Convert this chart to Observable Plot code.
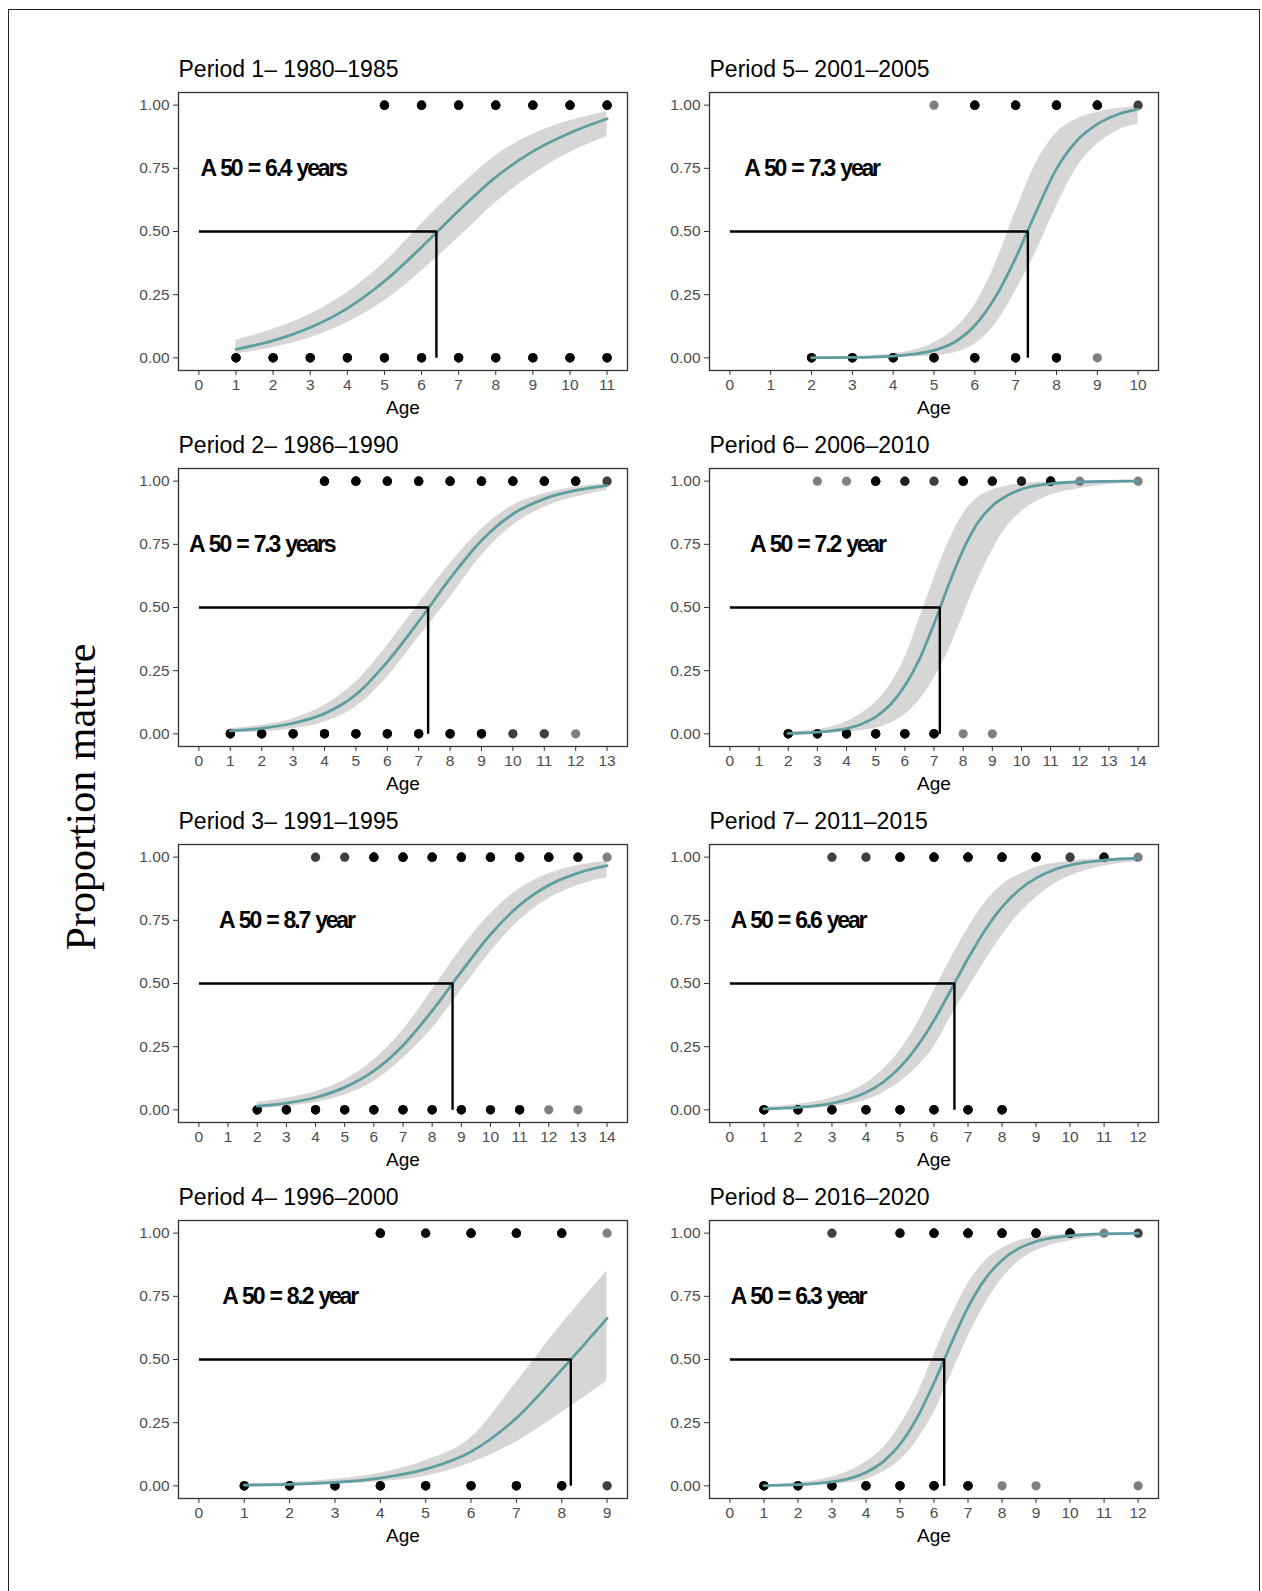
<!DOCTYPE html>
<html><head><meta charset="utf-8">
<script src="https://cdn.jsdelivr.net/npm/d3@7"></script>
<script src="https://cdn.jsdelivr.net/npm/@observablehq/plot@0.6"></script>
<style>
html,body{margin:0;padding:0;background:#fff;overflow:hidden;}
#page{position:relative;width:1262px;height:1591px;overflow:hidden;}
#border{position:absolute;left:8px;top:9px;width:1252px;height:1700px;border:1px solid #222;box-sizing:border-box;}
.panel{position:absolute;}
#ylab{position:absolute;left:81px;top:797px;transform:translate(-50%,-50%) rotate(-90deg);font-family:"Liberation Serif","Times New Roman",serif;font-size:42px;white-space:nowrap;color:#000;line-height:1;}
</style></head><body><div id="page"><div id="border"></div><div id="ylab">Proportion mature</div></div>
<script>
// ---- Panel metadata ----
const titles = ["Period 1\u2013 1980\u20131985","Period 2\u2013 1986\u20131990","Period 3\u2013 1991\u20131995","Period 4\u2013 1996\u20132000",
                "Period 5\u2013 2001\u20132005","Period 6\u2013 2006\u20132010","Period 7\u2013 2011\u20132015","Period 8\u2013 2016\u20132020"];
const xMax = [11, 13, 14, 9, 10, 14, 12, 12];
const a50 = [6.4, 7.3, 8.7, 8.2, 7.3, 7.2, 6.6, 6.3];
const a50Labels = ["A 50 = 6.4 years","A 50 = 7.3 years","A 50 = 8.7 year","A 50 = 8.2 year",
                   "A 50 = 7.3 year","A 50 = 7.2 year","A 50 = 6.6 year","A 50 = 6.3 year"];
const labelAge = [2, 2, 3, 2, 2, 3, 2, 2];
const yTicks = [0, 0.25, 0.5, 0.75, 1];

// ---- Period 1 ----
const ages1 = [1,2,3,4,5,6,7,8,9,10,11];
const fit1 = [0.034,0.068,0.12,0.196,0.303,0.438,0.582,0.715,0.817,0.89,0.946];
const lo1  = [0.015,0.041,0.08,0.14,0.226,0.344,0.476,0.615,0.727,0.813,0.875];
const hi1  = [0.07,0.113,0.173,0.259,0.377,0.53,0.674,0.80,0.885,0.938,0.974];
const mat1 = [5,6,7,8,9,10,11];            const matN1 = [6,6,6,6,6,6,6];
const imm1 = [1,2,3,4,5,6,7,8,9,10,11];    const immN1 = [6,6,6,6,6,6,6,6,6,6,6];

// ---- Period 2 ----
const ages2 = [1,2,3,4,5,6,7,8,9,10,11,12,13];
const fit2 = [0.012,0.022,0.042,0.08,0.155,0.285,0.445,0.615,0.765,0.87,0.93,0.963,0.982];
const lo2  = [0.004,0.008,0.02,0.047,0.107,0.225,0.383,0.54,0.706,0.825,0.897,0.937,0.963];
const hi2  = [0.021,0.034,0.06,0.113,0.205,0.35,0.515,0.673,0.81,0.904,0.95,0.976,0.99];
const mat2 = [4,5,6,7,8,9,10,11,12,13];     const matN2 = [6,6,6,6,6,6,6,6,6,2];
const imm2 = [1,2,3,4,5,6,7,8,9,10,11,12];  const immN2 = [6,6,6,6,6,6,6,6,6,2,2,1];

// ---- Period 3 ----
const ages3 = [2,3,4,5,6,7,8,9,10,11,12,13,14];
const fit3 = [0.015,0.027,0.049,0.089,0.154,0.255,0.392,0.547,0.694,0.81,0.889,0.937,0.966];
const lo3  = [0.005,0.013,0.029,0.059,0.112,0.204,0.322,0.474,0.625,0.75,0.836,0.888,0.918];
const hi3  = [0.029,0.046,0.072,0.118,0.197,0.316,0.474,0.638,0.776,0.875,0.934,0.967,0.984];
const mat3 = [4,5,6,7,8,9,10,11,12,13,14];  const matN3 = [2,2,6,6,6,6,6,6,6,4,1];
const imm3 = [2,3,4,5,6,7,8,9,10,11,12,13]; const immN3 = [6,6,6,6,6,6,6,6,4,6,1,1];

// ---- Period 4 ----
const ages4 = [1,2,3,4,5,6,7,8,9];
const fit4 = [0.003,0.006,0.014,0.031,0.066,0.135,0.268,0.46,0.663];
const lo4  = [0.0005,0.002,0.006,0.016,0.038,0.09,0.174,0.29,0.415];
const hi4  = [0.007,0.013,0.026,0.05,0.1,0.19,0.41,0.64,0.85];
const mat4 = [4,5,6,7,8,9];                 const matN4 = [6,4,6,6,6,1];
const imm4 = [1,2,3,4,5,6,7,8,9];           const immN4 = [6,6,6,6,6,6,6,6,2];

// ---- Period 5 ----
const ages5 = [2,2.5,3,3.5,4,4.5,5,5.5,6,6.5,7,7.5,8,8.5,9,9.5,10];
const fit5 = [0.0004,0.0008,0.0016,0.0033,0.007,0.015,0.03,0.062,0.128,0.24,0.395,0.578,0.748,0.859,0.925,0.963,0.984];
const lo5  = [0.0,0.0001,0.0003,0.0007,0.0015,0.004,0.008,0.02,0.054,0.133,0.265,0.42,0.60,0.753,0.845,0.90,0.925];
const hi5  = [0.002,0.003,0.005,0.009,0.016,0.03,0.06,0.113,0.21,0.37,0.58,0.77,0.89,0.945,0.972,0.987,0.995];
const mat5 = [5,6,7,8,9,10];                const matN5 = [1,6,6,6,6,2];
const imm5 = [2,3,4,5,6,7,8,9];             const immN5 = [6,6,6,6,6,6,6,1];

// ---- Period 6 ----
const ages6 = [2,2.5,3,3.5,4,4.5,5,5.5,6,6.5,7,7.5,8,8.5,9,9.5,10,11,12,13,14];
const fit6 = [0.002,0.0035,0.0065,0.012,0.021,0.038,0.067,0.115,0.19,0.296,0.435,0.589,0.728,0.835,0.902,0.942,0.968,0.99,0.997,0.999,1.0];
const lo6  = [0.0005,0.0008,0.0015,0.0035,0.007,0.013,0.022,0.042,0.075,0.134,0.22,0.33,0.47,0.608,0.727,0.82,0.879,0.945,0.971,0.987,0.995];
const hi6  = [0.005,0.009,0.016,0.028,0.049,0.08,0.125,0.195,0.30,0.455,0.615,0.76,0.87,0.935,0.965,0.98,0.99,0.997,0.999,1.0,1.0];
const mat6 = [3,4,5,6,7,8,9,10,11,12,14];   const matN6 = [1,1,6,3,2,6,4,3,6,1,1];
const imm6 = [2,3,4,5,6,7,8,9];             const immN6 = [6,6,6,6,6,6,1,1];

// ---- Period 7 ----
const ages7 = [1,2,3,3.5,4,4.5,5,5.5,6,6.5,7,7.5,8,8.5,9,9.5,10,11,12];
const fit7 = [0.004,0.01,0.026,0.043,0.069,0.109,0.168,0.25,0.354,0.475,0.599,0.711,0.802,0.87,0.917,0.948,0.968,0.988,0.996];
const lo7  = [0.001,0.004,0.012,0.022,0.038,0.068,0.11,0.17,0.25,0.37,0.48,0.59,0.69,0.775,0.84,0.89,0.925,0.965,0.982];
const hi7  = [0.01,0.022,0.048,0.07,0.105,0.16,0.235,0.34,0.47,0.60,0.72,0.82,0.89,0.93,0.96,0.975,0.985,0.995,0.998];
const mat7 = [3,4,5,6,7,8,9,10,11,12];      const matN7 = [2,2,6,6,6,6,6,2,4,1];
const imm7 = [1,2,3,4,5,6,7,8];             const immN7 = [6,6,6,6,6,6,6,6];

// ---- Period 8 ----
const ages8 = [1,2,3,3.5,4,4.5,5,5.5,6,6.5,7,7.5,8,8.5,9,9.5,10,11,12];
const fit8 = [0.0013,0.0046,0.016,0.029,0.053,0.095,0.164,0.269,0.407,0.562,0.706,0.818,0.893,0.94,0.967,0.982,0.99,0.997,0.999];
const lo8  = [0.0003,0.0015,0.006,0.012,0.025,0.055,0.10,0.18,0.29,0.44,0.59,0.72,0.82,0.89,0.93,0.955,0.97,0.99,0.996];
const hi8  = [0.004,0.012,0.035,0.058,0.095,0.15,0.24,0.36,0.52,0.67,0.80,0.89,0.94,0.97,0.985,0.992,0.997,0.999,1.0];
const mat8 = [3,5,6,7,8,9,10,11,12];        const matN8 = [2,4,6,6,6,6,6,1,2];
const imm8 = [1,2,3,4,5,6,7,8,9,12];        const immN8 = [6,6,6,6,6,6,6,1,1,1];

const series = [
  [ages1,fit1,lo1,hi1,mat1,matN1,imm1,immN1],
  [ages2,fit2,lo2,hi2,mat2,matN2,imm2,immN2],
  [ages3,fit3,lo3,hi3,mat3,matN3,imm3,immN3],
  [ages4,fit4,lo4,hi4,mat4,matN4,imm4,immN4],
  [ages5,fit5,lo5,hi5,mat5,matN5,imm5,immN5],
  [ages6,fit6,lo6,hi6,mat6,matN6,imm6,immN6],
  [ages7,fit7,lo7,hi7,mat7,matN7,imm7,immN7],
  [ages8,fit8,lo8,hi8,mat8,matN8,imm8,immN8]
];

const page = document.getElementById("page");
const boxW = 449, boxH = 278;
const mL = 60, mR = 12, mT = 40, mB = 55;
const colLeft = [177.5, 709];
const rowTop = [91.7, 467.8, 844.0, 1220.3];
const font = "'Liberation Sans', Arial, Helvetica, sans-serif";

series.forEach((s, i) => {
  const [ages, fit, lo, hi, mat, matN, imm, immN] = s;
  const xm = xMax[i];
  const fitData = ages.map((a, k) => ({age: a, fit: fit[k], lo: lo[k], hi: hi[k]}));
  const pts = [];
  mat.forEach((a, k) => { for (let j = 0; j < matN[k]; j++) pts.push({age: a, y: 1}); });
  imm.forEach((a, k) => { for (let j = 0; j < immN[k]; j++) pts.push({age: a, y: 0}); });
  const elbow = [{x: 0, y: 0.5}, {x: a50[i], y: 0.5}, {x: a50[i], y: 0}];

  const chart = Plot.plot({
    width: mL + boxW + mR, height: mT + boxH + mB,
    marginLeft: mL, marginRight: mR, marginTop: mT, marginBottom: mB,
    style: {fontFamily: font, background: "transparent", overflow: "visible"},
    x: {domain: [-0.05 * xm, 1.05 * xm]},
    y: {domain: [-0.05, 1.05]},
    marks: [
      Plot.areaY(fitData, {x: "age", y1: "lo", y2: "hi", fill: "#999999", fillOpacity: 0.4, curve: "monotone-x"}),
      Plot.dot(pts, {x: "age", y: "y", r: 4.6, fill: "black", fillOpacity: 0.5}),
      Plot.line(fitData, {x: "age", y: "fit", stroke: "#5f9ea0", strokeWidth: 2.8, curve: "monotone-x"}),
      Plot.line(elbow, {x: "x", y: "y", stroke: "black", strokeWidth: 2.4, strokeLinejoin: "miter", strokeLinecap: "butt"}),
      Plot.text([a50Labels[i]], {x: labelAge[i], y: 0.75, text: d => d, fontSize: 23, fontWeight: "bold", fill: "black", textAnchor: "middle"}),
      Plot.frame({stroke: "#333333", strokeWidth: 1.3}),
      Plot.axisX({ticks: d3.range(0, xm + 1), tickFormat: d3.format("d"), tickSize: 5, tickPadding: 3, fontSize: 15.5, stroke: "#333333", fill: "#4d4d4d", label: null}),
      Plot.axisY({ticks: yTicks, tickFormat: d3.format(".2f"), tickSize: 5, tickPadding: 4, fontSize: 15.5, stroke: "#333333", fill: "#4d4d4d", label: null}),
      Plot.text([titles[i]], {frameAnchor: "top-left", dy: -22.7, text: d => d, fontSize: 23, fill: "black", textAnchor: "start", lineAnchor: "middle"}),
      Plot.text(["Age"], {frameAnchor: "bottom", dy: 37, text: d => d, fontSize: 19, fill: "black", lineAnchor: "middle"})
    ]
  });
  chart.classList.add("panel");
  const col = i < 4 ? 0 : 1, row = i % 4;
  chart.style.left = (colLeft[col] - mL) + "px";
  chart.style.top = (rowTop[row] - mT) + "px";
  chart.style.position = "absolute";
  chart.querySelectorAll("text").forEach(t => {
    if (t.textContent.startsWith("A 50")) { t.style.letterSpacing = "-2.2px"; t.style.wordSpacing = "2px"; }
  });
  page.appendChild(chart);
});
</script></body></html>
